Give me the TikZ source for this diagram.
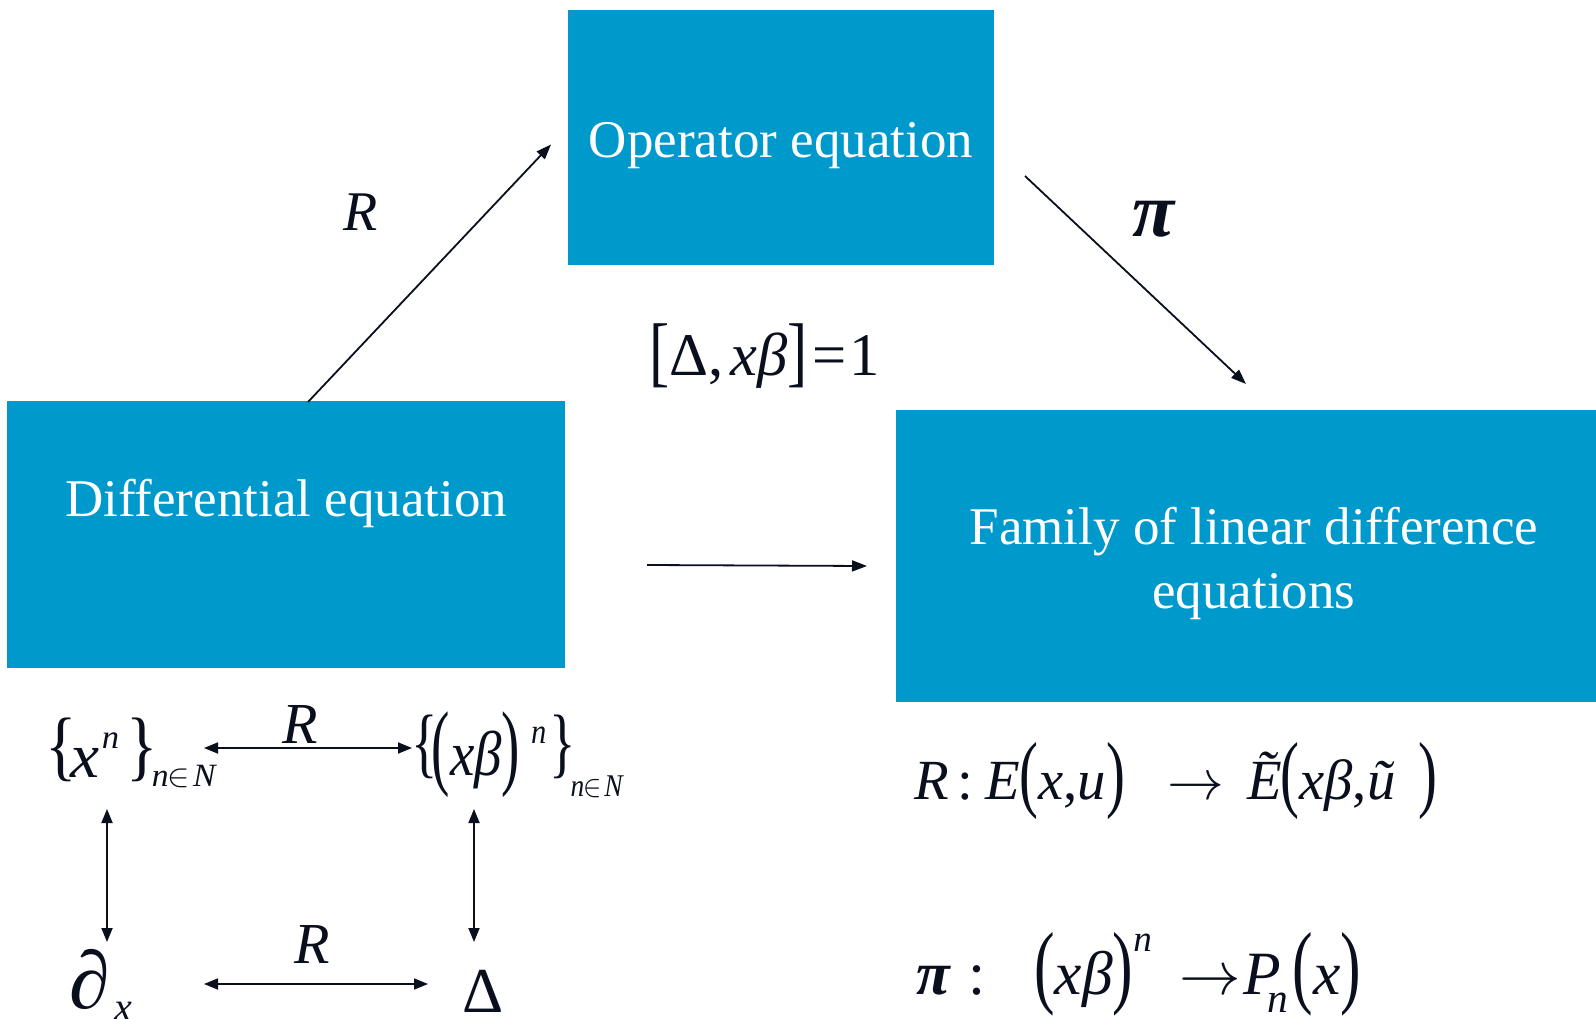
\RequirePackage{fix-cm}
\documentclass[tikz,border=0pt]{standalone}
\usepackage{fontspec}
\setmainfont{Liberation Serif}
\usepackage{graphicx}
\usetikzlibrary{arrows.meta}
\definecolor{boxblue}{HTML}{0099CC}
\definecolor{inkc}{HTML}{0A0F1E}
\newcommand{\sz}[1]{\fontsize{#1}{#1}\selectfont}
\newcommand{\TP}[1]{\raisebox{-0.04em}{\scalebox{1}[1.5]{#1}}}
\newcommand{\TB}[1]{\raisebox{0.1em}{\scalebox{1}[1.22]{#1}}}
\newcommand{\TK}[1]{\raisebox{-0.03em}{\scalebox{1}[1.28]{#1}}}
\tikzset{
  box/.style={fill=boxblue, draw=none, inner sep=0pt},
  boxtext/.style={text=white, inner sep=0pt, align=center, font=\fontsize{53}{64}\selectfont},
  lbl/.style={inner sep=0pt, text=inkc, font=\sz{56}\itshape},
  lblb/.style={inner sep=0pt, text=inkc, font=\sz{58}\itshape},
  formula/.style={inner sep=0pt, text=inkc},
  arr/.style={-{Triangle[length=15pt,width=11pt]}, line width=1.8pt, draw=inkc},
  darr/.style={{Triangle[length=14pt,width=11pt]}-{Triangle[length=14pt,width=11pt]}, line width=1.8pt, draw=inkc},
}
\begin{document}
\begin{tikzpicture}[x=1pt,y=-1pt]
\useasboundingbox (0,0) rectangle (1596,1019);
\fill[white] (0,0) rectangle (1596,1019);
% boxes
\node[box, minimum width=425.5pt, minimum height=255pt] (op) at (780.75,137.5) {};
\node[boxtext] (opt) at (781,145.5) {Operator equation};
\node[box, minimum width=558pt, minimum height=267pt] (diff) at (286,534.5) {};
\node[boxtext] (difft) at (286,503) {Differential equation};
\node[box, minimum width=700pt, minimum height=292pt] (fam) at (1246,556) {};
\node[boxtext] (famt) at (1254,563) {Family of linear difference\\ equations};
% main arrows
\coordinate (ra) at (308,402);
\coordinate (rb) at (551,144.5);
\draw[arr] (ra) -- (rb);
\node[lbl] (rlab) at (361,212) {R};
\coordinate (pa) at (1025,176);
\coordinate (pb) at (1246,384);
\draw[arr] (pa) -- (pb);
\node[formula] (pilab) at (1153,219.5) {\resizebox{42pt}{!}{\sz{80}\bfseries\itshape π}};
\coordinate (ha) at (647,565);
\coordinate (hb) at (867,566);
\draw[arr] (ha) -- (hb);
\node[formula] (comm) at (764.5,356) {\resizebox{231pt}{!}{\sz{58}\TK{[}Δ,\kern0.12em\textit{xβ}\TK{]}\kern0.08em=\kern0.05em1}};
% bottom-left square
\node[formula] (xn) at (131.5,753) {\resizebox*{171pt}{70pt}{\sz{70}\TB{\{}\kern-0.1em\textit{x}\kern0.03em\raisebox{0.46em}{\sz{37}\textit{n}}\kern0.12em\TB{\}}\kern-0.1em\raisebox{-0.14em}{\sz{36}\textit{n}\kern-0.02em$\in$\kern0.08em\textit{N}}}};
\node[formula] (xbn) at (518,755) {\resizebox*{212pt}{86pt}{\sz{72}\TB{\{}\kern-0.12em\TP{(}\textit{xβ}\TP{)}\kern0.2em\raisebox{0.5em}{\sz{40}\textit{n}}\kern0.06em\TB{\}}\kern-0.1em\raisebox{-0.34em}{\sz{36}\textit{n}\kern-0.02em$\in$\kern0.08em\textit{N}}}};
\coordinate (t1) at (204,748);
\coordinate (t2) at (412,748);
\draw[darr] (t1) -- (t2);
\node[lblb] (rt) at (300,725) {R};
\coordinate (l1) at (107,809);
\coordinate (l2) at (107,942);
\draw[darr] (l1) -- (l2);
\coordinate (r1) at (474,809);
\coordinate (r2) at (474,942);
\draw[darr] (r1) -- (r2);
\node[formula, anchor=base west] (dx) at (69,1008) {\sz{82}∂\kern0.06em\raisebox{-0.15em}{\sz{40}\itshape x}};
\coordinate (b1) at (204,984);
\coordinate (b2) at (428,984);
\draw[darr] (b1) -- (b2);
\node[lblb] (rbl) at (312,945) {R};
\node[formula, anchor=base] (del) at (483.5,1012) {\sz{64}Δ};
% right formulas
\node[formula] (fr) at (1175.5,781) {\resizebox{523pt}{!}{\sz{58}\textit{R}\kern0.16em:\kern0.22em\textit{E}\kern-0.02em\TP{(}\textit{x},\textit{u}\TP{)}\kern0.75em$\rightarrow$\kern0.4em\textit{Ẽ}\kern-0.02em\TP{(}\textit{xβ},\textit{ũ}\kern0.4em\TP{)}}};
\node[formula] (fp) at (1138.5,974.5) {\resizebox{445pt}{!}{\sz{58}{\bfseries\itshape π}\kern0.3em:\kern0.8em\TP{(}\textit{xβ}\TP{)}\raisebox{0.69em}{\sz{35}\textit{n}}\kern0.45em$\rightarrow$\kern0.03em\textit{P}\kern-0.22em\raisebox{-0.3em}{\sz{39}\textit{n}}\kern0.08em\TP{(}\textit{x}\TP{)}}};
\end{tikzpicture}
\end{document}
